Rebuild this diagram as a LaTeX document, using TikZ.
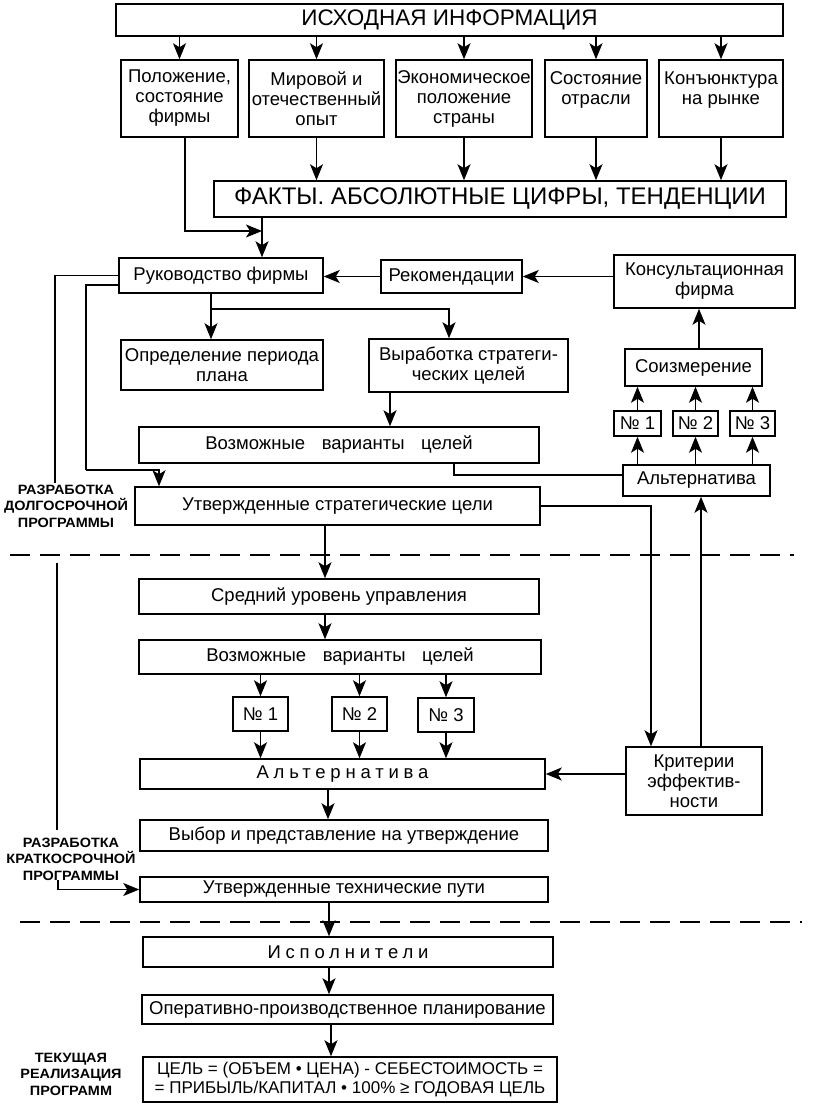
\documentclass[tikz,border=0pt]{standalone}
\usepackage{fontspec}
\setmainfont{Liberation Sans}
\newfontfamily\spacedfont[LetterSpace=26]{Liberation Sans}
\newfontfamily\lblfont[FakeStretch=1.07]{Liberation Sans}
\usetikzlibrary{arrows.meta}
\begin{document}
\begin{tikzpicture}[x=1pt,y=-1pt,
  box/.style={draw, line width=1.5pt, inner sep=0pt, align=center, font=\fontsize{18.5}{20}\selectfont},
  arr/.style={line width=1.3pt, -{Stealth[length=16pt,width=13pt,inset=4pt]}},
  ln/.style={line width=1.3pt},
  lbl/.style={align=center, font=\lblfont\bfseries\fontsize{13.5}{16.5}\selectfont, inner sep=0pt},
  sep/.style={line width=2.5pt, dash pattern=on 20pt off 10pt}]
\useasboundingbox[fill=white] (0,0) rectangle (827,1116);

% top part
\node[box, minimum width=667pt, minimum height=32pt, font=\fontsize{22.5}{24}\selectfont] (top) at (449.5,20) {ИСХОДНАЯ ИНФОРМАЦИЯ};
\node[box, minimum width=117pt, minimum height=77pt] (b1) at (179.5,98.5) {Положение,\\состояние\\фирмы};
\node[box, minimum width=135pt, minimum height=77pt] (b2) at (316.5,98.5) {Мировой и\\отечественный\\опыт};
\node[box, minimum width=136pt, minimum height=77pt] (b3) at (464,98.5) {Экономическое\\положение\\страны};
\node[box, minimum width=102pt, minimum height=77pt] (b4) at (596,98.5) {Состояние\\отрасли\\\phantom{x}};
\node[box, minimum width=124pt, minimum height=77pt] (b5) at (721,98.5) {Конъюнктура\\на рынке\\\phantom{x}};
\node[box, minimum width=572pt, minimum height=36pt, font=\fontsize{24}{26}\selectfont] (facts) at (500,199) {ФАКТЫ. АБСОЛЮТНЫЕ ЦИФРЫ, ТЕНДЕНЦИИ};

\node[box, minimum width=204pt, minimum height=35pt] (ruk) at (221,275.5) {Руководство фирмы};
\node[box, minimum width=141pt, minimum height=33pt] (rec) at (451.5,276.5) {Рекомендации};
\node[box, minimum width=181pt, minimum height=53pt] (kons) at (704.5,281.5) {Консультационная\\фирма};
\node[box, minimum width=202pt, minimum height=50pt] (opr) at (222,365) {Определение периода\\плана};
\node[box, minimum width=199pt, minimum height=53pt] (vyr) at (468.5,365.5) {Выработка стратеги-\\ческих целей};
\node[box, minimum width=137pt, minimum height=37pt] (som) at (693.5,367.5) {Соизмерение};
\node[box, minimum width=47pt, minimum height=25pt] (n1a) at (637.5,423.5) {№ 1};
\node[box, minimum width=45pt, minimum height=25pt] (n2a) at (695.5,423.5) {№ 2};
\node[box, minimum width=45pt, minimum height=25pt] (n3a) at (752.5,423.5) {№ 3};
\node[box, minimum width=400pt, minimum height=36pt] (vv1) at (339,445) {Возможные\hspace{0.9em}варианты\hspace{0.9em}целей};
\node[box, minimum width=147pt, minimum height=31pt] (altR) at (696.5,480.5) {Альтернатива};
\node[box, minimum width=405pt, minimum height=38pt] (uts) at (337.5,506) {Утвержденные стратегические цели};

% middle part
\node[box, minimum width=400pt, minimum height=35pt] (sred) at (339,596.5) {Средний уровень управления};
\node[box, minimum width=402pt, minimum height=34pt] (vv2) at (340,657) {Возможные\hspace{0.9em}варианты\hspace{0.9em}целей};
\node[box, minimum width=55pt, minimum height=34pt] (n1b) at (260.5,714) {№ 1};
\node[box, minimum width=55pt, minimum height=34pt] (n2b) at (359.5,714) {№ 2};
\node[box, minimum width=56pt, minimum height=34pt] (n3b) at (446,715) {№ 3};
\node[box, minimum width=405pt, minimum height=30pt] (altL) at (342.5,774) {\spacedfont Альтернатива};
\node[box, minimum width=136pt, minimum height=68pt] (krit) at (694,781) {Критерии\\эффектив-\\ности};
\node[box, minimum width=408pt, minimum height=31pt] (vyb) at (344,835.5) {Выбор и представление на утверждение};
\node[box, minimum width=408pt, minimum height=25pt] (utp) at (344,889.5) {Утвержденные технические пути};

% bottom part
\node[box, minimum width=410pt, minimum height=30pt] (isp) at (348,952) {\spacedfont Исполнители};
\node[box, minimum width=411pt, minimum height=29pt] (oper) at (347.5,1009.5) {Оперативно-производственное планирование};
\node[box, minimum width=414pt, minimum height=45pt, font=\fontsize{17}{19}\selectfont] (cel) at (350,1079.5) {ЦЕЛЬ = (ОБЪЕМ • ЦЕНА) - СЕБЕСТОИМОСТЬ =\\= ПРИБЫЛЬ/КАПИТАЛ • 100\% ≥ ГОДОВАЯ ЦЕЛЬ};

% labels
\node[lbl] (raz1) at (66,506) {РАЗРАБОТКА\\ДОЛГОСРОЧНОЙ\\ПРОГРАММЫ};
\node[lbl] (raz2) at (71,859) {РАЗРАБОТКА\\КРАТКОСРОЧНОЙ\\ПРОГРАММЫ};
\node[lbl] (raz3) at (71,1074) {ТЕКУЩАЯ\\РЕАЛИЗАЦИЯ\\ПРОГРАММ};

% coordinates
\coordinate (j1) at (262,231);
\coordinate (br) at (211,309);
\coordinate (l1end) at (55,483);
\coordinate (l2c) at (86,470);
\coordinate (kup) at ([xshift=7pt]krit.north);
\coordinate (mx) at (325,0);
\coordinate (mx2) at (328,0);
\coordinate (mx3) at (329,0);
\coordinate (mx4) at (331,0);
\coordinate (l3a) at (57,563);
\coordinate (l3b) at (57,830);
\coordinate (l4a) at (58,880);
\coordinate (d1a) at (10,555);
\coordinate (d1b) at (794,555);
\coordinate (d2a) at (20,922);
\coordinate (d2b) at (802,922);

% connectors top
\foreach \n in {b1,b2,b3,b4,b5} \draw[arr] (top.south -| \n) -- (\n.north);
\foreach \n in {b2,b3,b4,b5} \draw[arr] (\n.south) -- (facts.north -| \n);
\draw[arr] ([xshift=5.5pt]b1.south) |- (j1);
\draw[arr] (facts.south -| j1) -- (ruk.north -| j1);
\draw[arr] (kons.west |- rec) -- (rec.east);
\draw[arr] (rec.west) -- (ruk.east |- rec.west);
\draw[ln] (ruk.south -| br) -- (br);
\draw[arr] (br) -- (opr.north -| br);
\draw[arr] (br) -| ([xshift=-19.5pt]vyr.north);
\draw[arr] ([xshift=-78.5pt]vyr.south) -- ([xshift=-78.5pt]vyr.south |- vv1.north);
\draw[arr] ([xshift=5.5pt]som.north) -- ([xshift=5.5pt]som.north |- kons.south);
\foreach \n in {n1a,n2a,n3a} {
  \draw[arr] (\n.north) -- (som.south -| \n);
  \draw[arr] (altR.north -| \n) -- (\n.south);
}
\draw[ln] ([xshift=115pt]vv1.south) |- ([yshift=5.5pt]altR.west);
\draw[ln] (ruk.west) -| (l1end);
\draw[ln] ([yshift=-9.5pt]ruk.west) -| (l2c);
\draw[arr] (l2c) -| ([xshift=-178.5pt]uts.north);
\draw[arr] (uts.east) -| ([xshift=-43pt]krit.north);
\draw[arr] (kup) -- (altR.south -| kup);

% connectors middle
\draw[arr] (uts.south -| mx) -- (sred.north -| mx);
\draw[arr] (sred.south -| mx) -- (vv2.north -| mx);
\foreach \n in {n1b,n2b,n3b} {
  \draw[arr] (vv2.south -| \n) -- (\n.north);
  \draw[arr] (\n.south) -- (altL.north -| \n);
}
\draw[arr] (krit.west |- altL.east) -- (altL.east);
\draw[arr] (altL.south -| mx2) -- (vyb.north -| mx2);
\draw[ln] (l3a) -- (l3b);
\draw[arr] (l4a) |- (utp.west);

% connectors bottom
\draw[arr] (utp.south -| mx3) -- (isp.north -| mx3);
\draw[arr] (isp.south -| mx3) -- (oper.north -| mx3);
\draw[arr] (oper.south -| mx4) -- (cel.north -| mx4);

% separators
\draw[sep] (d1a) -- (d1b);
\draw[sep] (d2a) -- (d2b);
\end{tikzpicture}
\end{document}
